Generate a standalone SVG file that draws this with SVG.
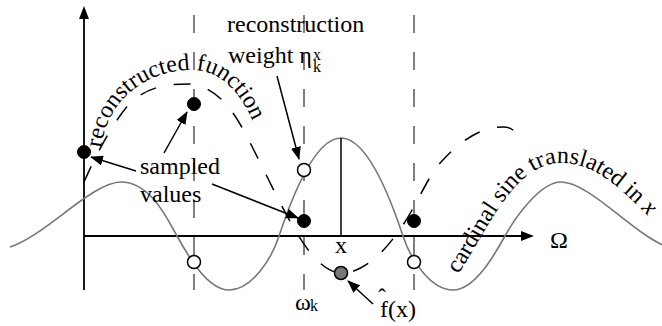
<svg xmlns="http://www.w3.org/2000/svg" width="662" height="326" viewBox="0 0 662 326">
<style>
.t{font-family:"Liberation Serif","Times New Roman","DejaVu Serif",serif;fill:#000}
.lbl{font-size:24px}
.sm{font-size:16px}
.ax{stroke:#000;stroke-width:1.8;fill:none}
.vd{stroke:#555;stroke-width:1.5;stroke-dasharray:18 19;fill:none}
.rc{stroke:#000;stroke-width:1.5;stroke-dasharray:17 18;fill:none}
.sinc{stroke:#777;stroke-width:1.6;fill:none}
.arr{stroke:#000;stroke-width:1.5;fill:none;marker-end:url(#ah)}
.full{fill:#000;stroke:#000;stroke-width:1}
.open{fill:#fff;stroke:#000;stroke-width:1.5}
</style>
<defs>
<marker id="ah" viewBox="0 0 13 10" refX="12" refY="5" markerWidth="13" markerHeight="10" markerUnits="userSpaceOnUse" orient="auto">
<path d="M0,0 L13,5 L0,10 z" fill="#000"/>
</marker>
<path id="recPath" d="M 101,148 C 108,96 150,70 192,70 C 222,70 244,96 256,130"/>
<path id="cardPath" d="M 458,274 C 485,236 512,164 560,163 C 598,163 622,190 662,230"/>
</defs>
<g id="connectors">
<line class="ax" x1="84" y1="290" x2="84" y2="18"/>
<path d="M84,6 L89,19 L79,19 z" fill="#000"/>
<line class="ax" x1="84" y1="236" x2="522" y2="236"/>
<path d="M534,236 L521,231 L521,241 z" fill="#000"/>
<line class="vd" x1="194" y1="15" x2="194" y2="290"/>
<line class="vd" x1="304" y1="15" x2="304" y2="290"/>
<line class="vd" x1="414" y1="15" x2="414" y2="290"/>
<path class="sinc" d="M10,247 C45,236 92,182 121,182 C150,182 167,218 177,236 C187,254 207,290 229,290 C252,290 272,258 279,236 C291,200 314,138 341,138 C368,138 391,200 403,236 C410,258 430,290 453,290 C475,290 495,254 505,236 C515,218 540,182 561,182 C590,182 635,236 668,247"/>
<line x1="341" y1="138" x2="341" y2="236" stroke="#000" stroke-width="1.5"/>
<path class="rc" d="M84,182 C99,148 115,120 130,103 C150,85 170,84 190,84 C208,86 226,97 244,131 C261,163 278,201 295,230 C311,257 326,273 342,273 C362,273 383,255 403,225 C416,206 428,176 441,162 C462,139 482,127 503,127 C508,127 511,128 514,131"/>
<line class="arr" x1="136" y1="171" x2="91" y2="157"/>
<line class="arr" x1="164" y1="153" x2="187" y2="112"/>
<line class="arr" x1="212" y1="184" x2="298" y2="218"/>
<line class="arr" x1="277" y1="76" x2="299" y2="159"/>
<line class="arr" x1="373" y1="304" x2="348" y2="281"/>
</g>
<g id="n-s1"><circle class="full" cx="84" cy="152" r="6.5"/></g>
<g id="n-s2"><circle class="full" cx="194" cy="104" r="6.5"/></g>
<g id="n-s3"><circle class="full" cx="304" cy="221" r="6.5"/></g>
<g id="n-s4"><circle class="full" cx="414" cy="221" r="6.5"/></g>
<g id="n-o1"><circle class="open" cx="194" cy="262" r="6.5"/></g>
<g id="n-o2"><circle class="open" cx="304" cy="170" r="6.5"/></g>
<g id="n-o3"><circle class="open" cx="414" cy="262" r="6.5"/></g>
<g id="n-fx"><circle cx="341" cy="273" r="6.5" fill="#777" stroke="#000" stroke-width="1.5"/></g>
<g id="labels" font-family="Liberation Serif, DejaVu Serif, serif">
<text class="t lbl"><textPath href="#recPath">reconstructed function</textPath></text>
<text class="t lbl"><textPath href="#cardPath">cardinal sine translated in <tspan font-style="italic">x</tspan></textPath></text>
<text class="t lbl" x="227" y="32">reconstruction</text>
<text class="t lbl" x="228" y="63">weight η</text>
<text class="t sm" x="313" y="60">x</text>
<text class="t sm" x="313" y="72">k</text>
<text class="t lbl" x="140" y="174">sampled</text>
<text class="t lbl" x="140" y="202">values</text>
<text class="t lbl" x="341" y="253" text-anchor="middle">x</text>
<text class="t lbl" x="559" y="248" text-anchor="middle">Ω</text>
<text class="t lbl" x="295" y="310">ω</text>
<text class="t sm" x="310" y="311">k</text>
<text class="t lbl" x="380" y="317">f(x)</text>
<text class="t lbl" x="378" y="305">ˆ</text>
</g>
</svg>
